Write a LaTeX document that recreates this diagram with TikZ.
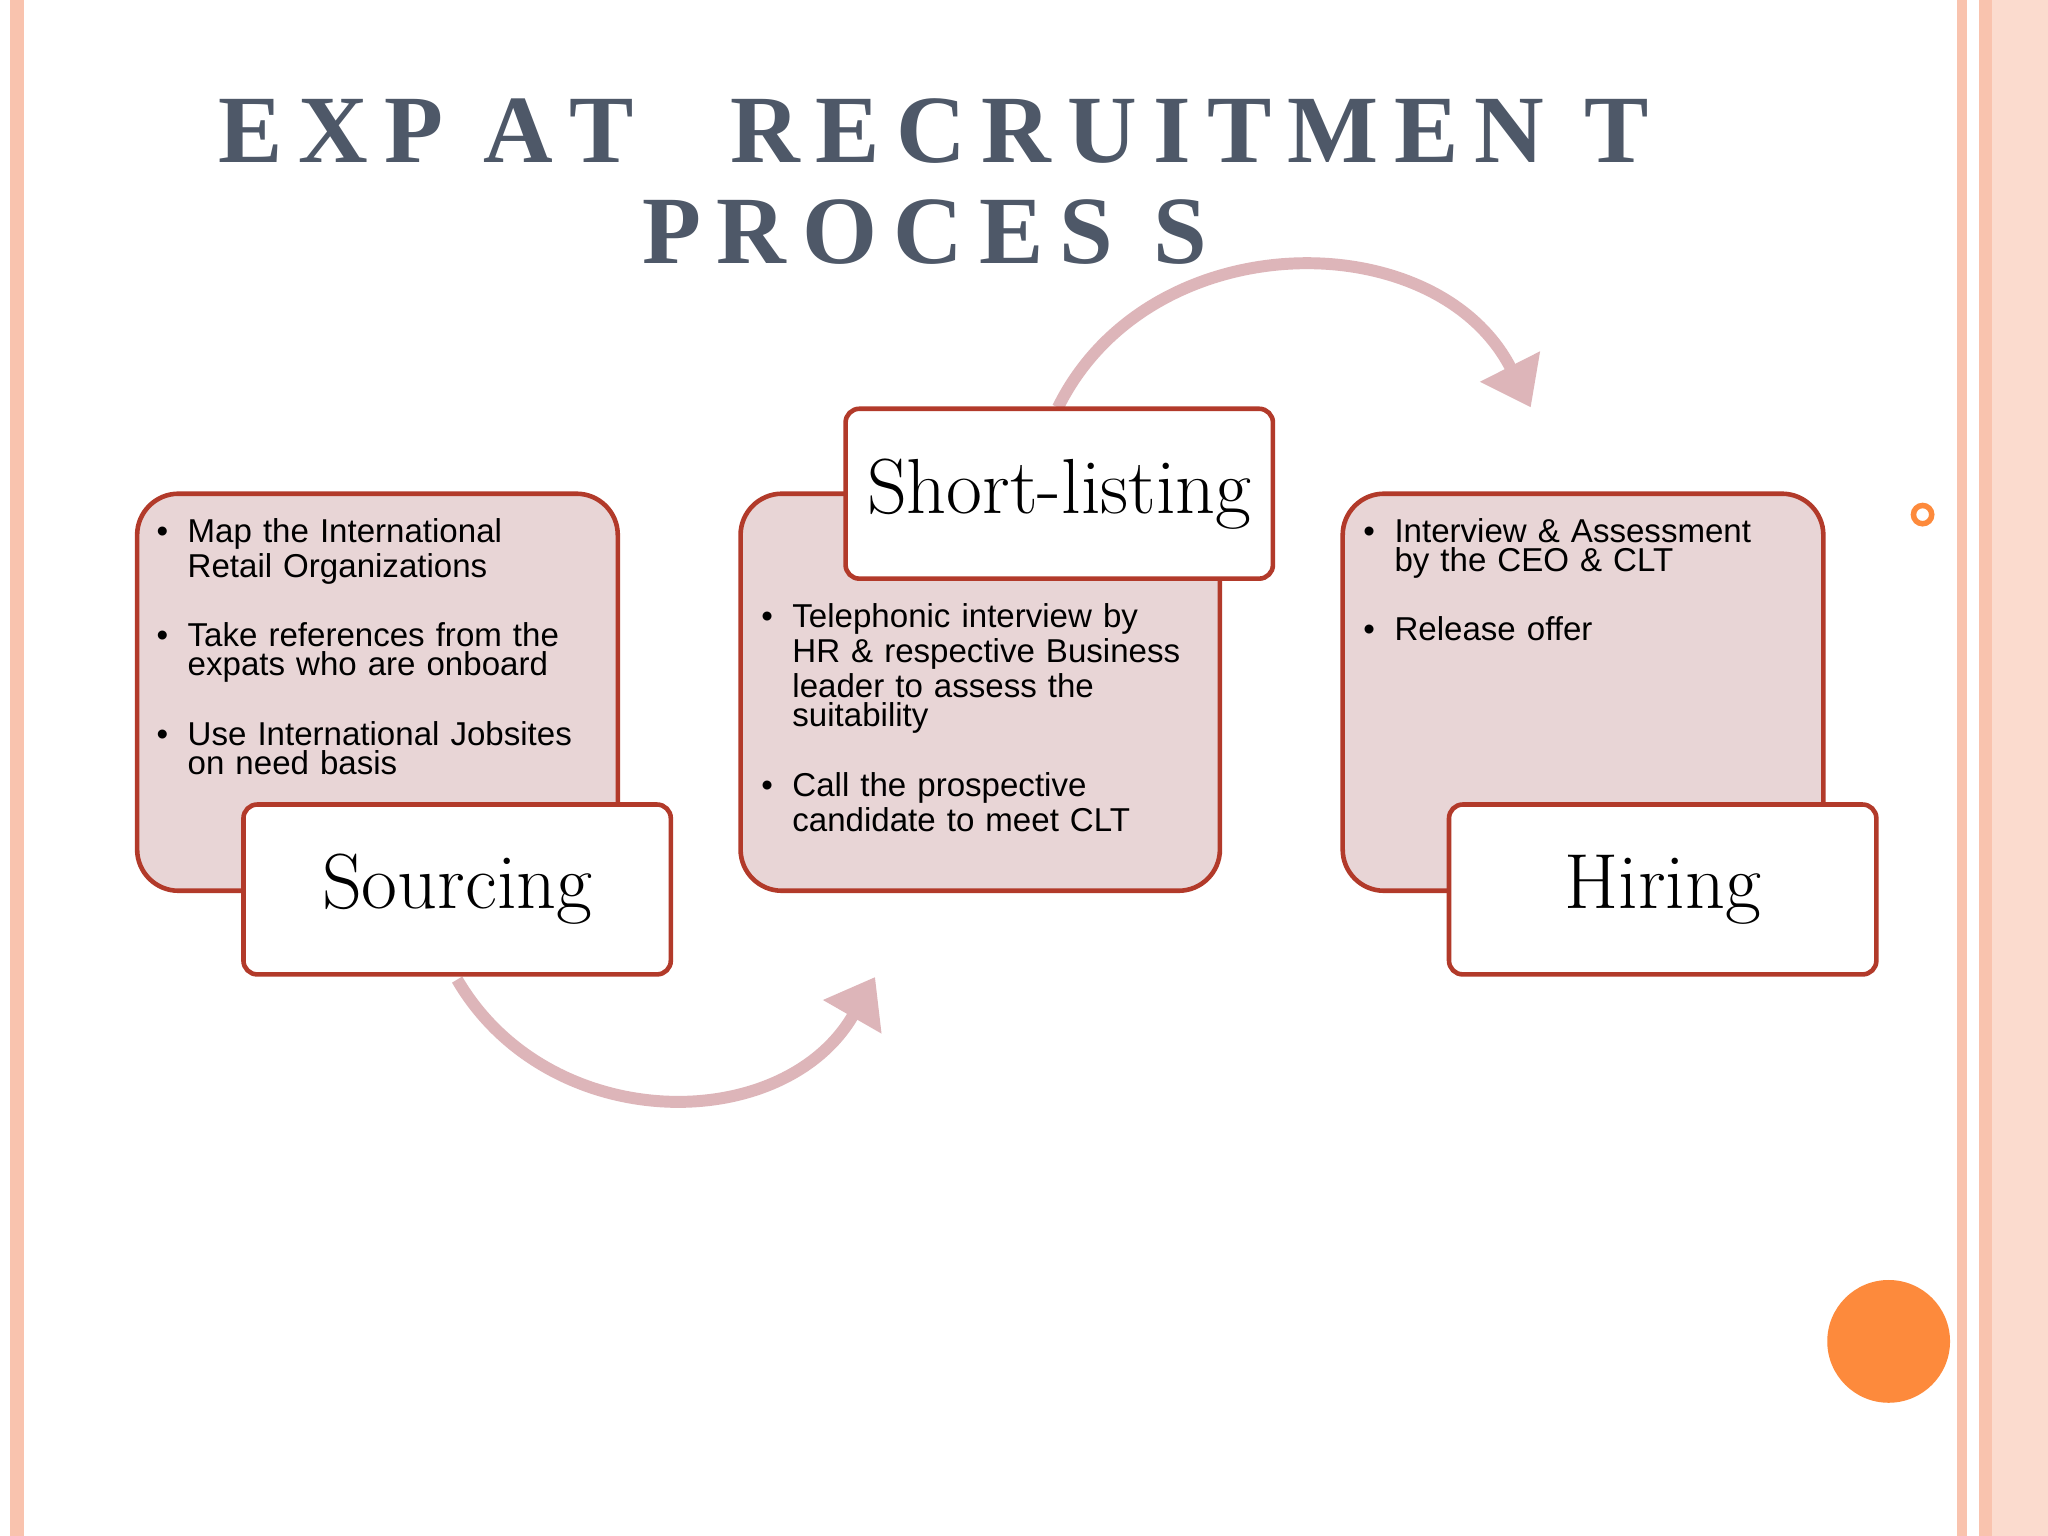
\documentclass[tikz,border=0pt]{standalone}
\usepackage{fontspec}
\setsansfont{Liberation Sans}
\newfontfamily\titlefont{Liberation Serif}
\usetikzlibrary{arrows.meta}
\definecolor{bord}{HTML}{B23A2A}
\definecolor{boxfill}{HTML}{E8D5D6}
\definecolor{arc}{HTML}{DDB5B9}
\definecolor{stripe}{HTML}{F9C3AE}
\definecolor{titlec}{HTML}{4E5868}
\definecolor{orng}{HTML}{FD8A3C}
\tikzset{
 bigbox/.style={draw=bord,line width=1pt,fill=boxfill,rounded corners=9pt},
 labbox/.style={draw=bord,line width=1pt,fill=white,rounded corners=3pt},
 lab/.style={font=\fontsize{17}{20}\selectfont},
 bul/.style={font=\sffamily\fontsize{7.2}{6.3}\selectfont,align=left,anchor=north west,text width=3.5cm,inner sep=0pt},
 arcline/.style={draw=arc,line width=2.6pt,-{Triangle[length=10pt,width=14pt]}},
}
\newcommand{\bi}[1]{\makebox[0pt][r]{\textbullet\hspace{1.5mm}}#1}
\begin{document}
\begin{tikzpicture}[x=0.01cm,y=-0.01cm]
\useasboundingbox (0,0) rectangle (1568,1176);
\fill[white] (0,0) rectangle (1568,1176);
\fill[stripe] (8,0) rectangle (18,1176);
\fill[stripe] (1498,0) rectangle (1506,1176);
\fill[stripe] (1515,0) rectangle (1525,1176);
\fill[stripe!60] (1525,0) rectangle (1568,1176);
\node[font=\titlefont\bfseries\fontsize{21}{24}\selectfont,text=titlec] (t1) at (715,100) {E\,X\,P\, A\,T\quad R\,E\,C\,R\,U\,I\,T\,M\,E\,N\, T};
\node[font=\titlefont\bfseries\fontsize{21}{24}\selectfont,text=titlec] (t2) at (708,178) {P\,R\,O\,C\,E\,S\, S};
% arcs
\coordinate (a1) at (350,750);
\coordinate (a2) at (670,748);
\coordinate (a3) at (810,312);
\coordinate (a4) at (1172,312);
\draw[arcline] (a1) .. controls (420,870) and (600,870) .. (a2);
\draw[arcline] (a3) .. controls (880,170) and (1100,170) .. (a4);
% boxes
\draw[bigbox] (105,378) rectangle (473,682);
\draw[bigbox] (567,378) rectangle (934,682);
\draw[bigbox] (1028,378) rectangle (1396,682);
\node[labbox,minimum width=3.27cm,minimum height=1.3cm,lab] (s) at (350,681) {Sourcing};
\node[labbox,minimum width=3.27cm,minimum height=1.3cm,lab] (sl) at (811,378) {Short-listing};
\node[labbox,minimum width=3.27cm,minimum height=1.3cm,lab] (h) at (1273,681) {Hiring};
\node[bul] (b1) at (143,396) {\bi{Map the International}\\Retail Organizations\\[2.6mm]\bi{Take references from the}\\expats who are onboard\\[2.6mm]\bi{Use International Jobsites}\\on need basis};
\node[bul] (b2) at (606,461) {\bi{Telephonic interview by}\\HR \& respective Business\\leader to assess the\\suitability\\[2.6mm]\bi{Call the prospective}\\candidate to meet CLT};
\node[bul] (b3) at (1067,396) {\bi{Interview \& Assessment}\\by the CEO \& CLT\\[2.6mm]\bi{Release offer}};
\draw[orng,line width=1.2pt] (1472,394) circle (7);
\fill[orng] (1446,1027) circle (47);
\end{tikzpicture}
\end{document}
